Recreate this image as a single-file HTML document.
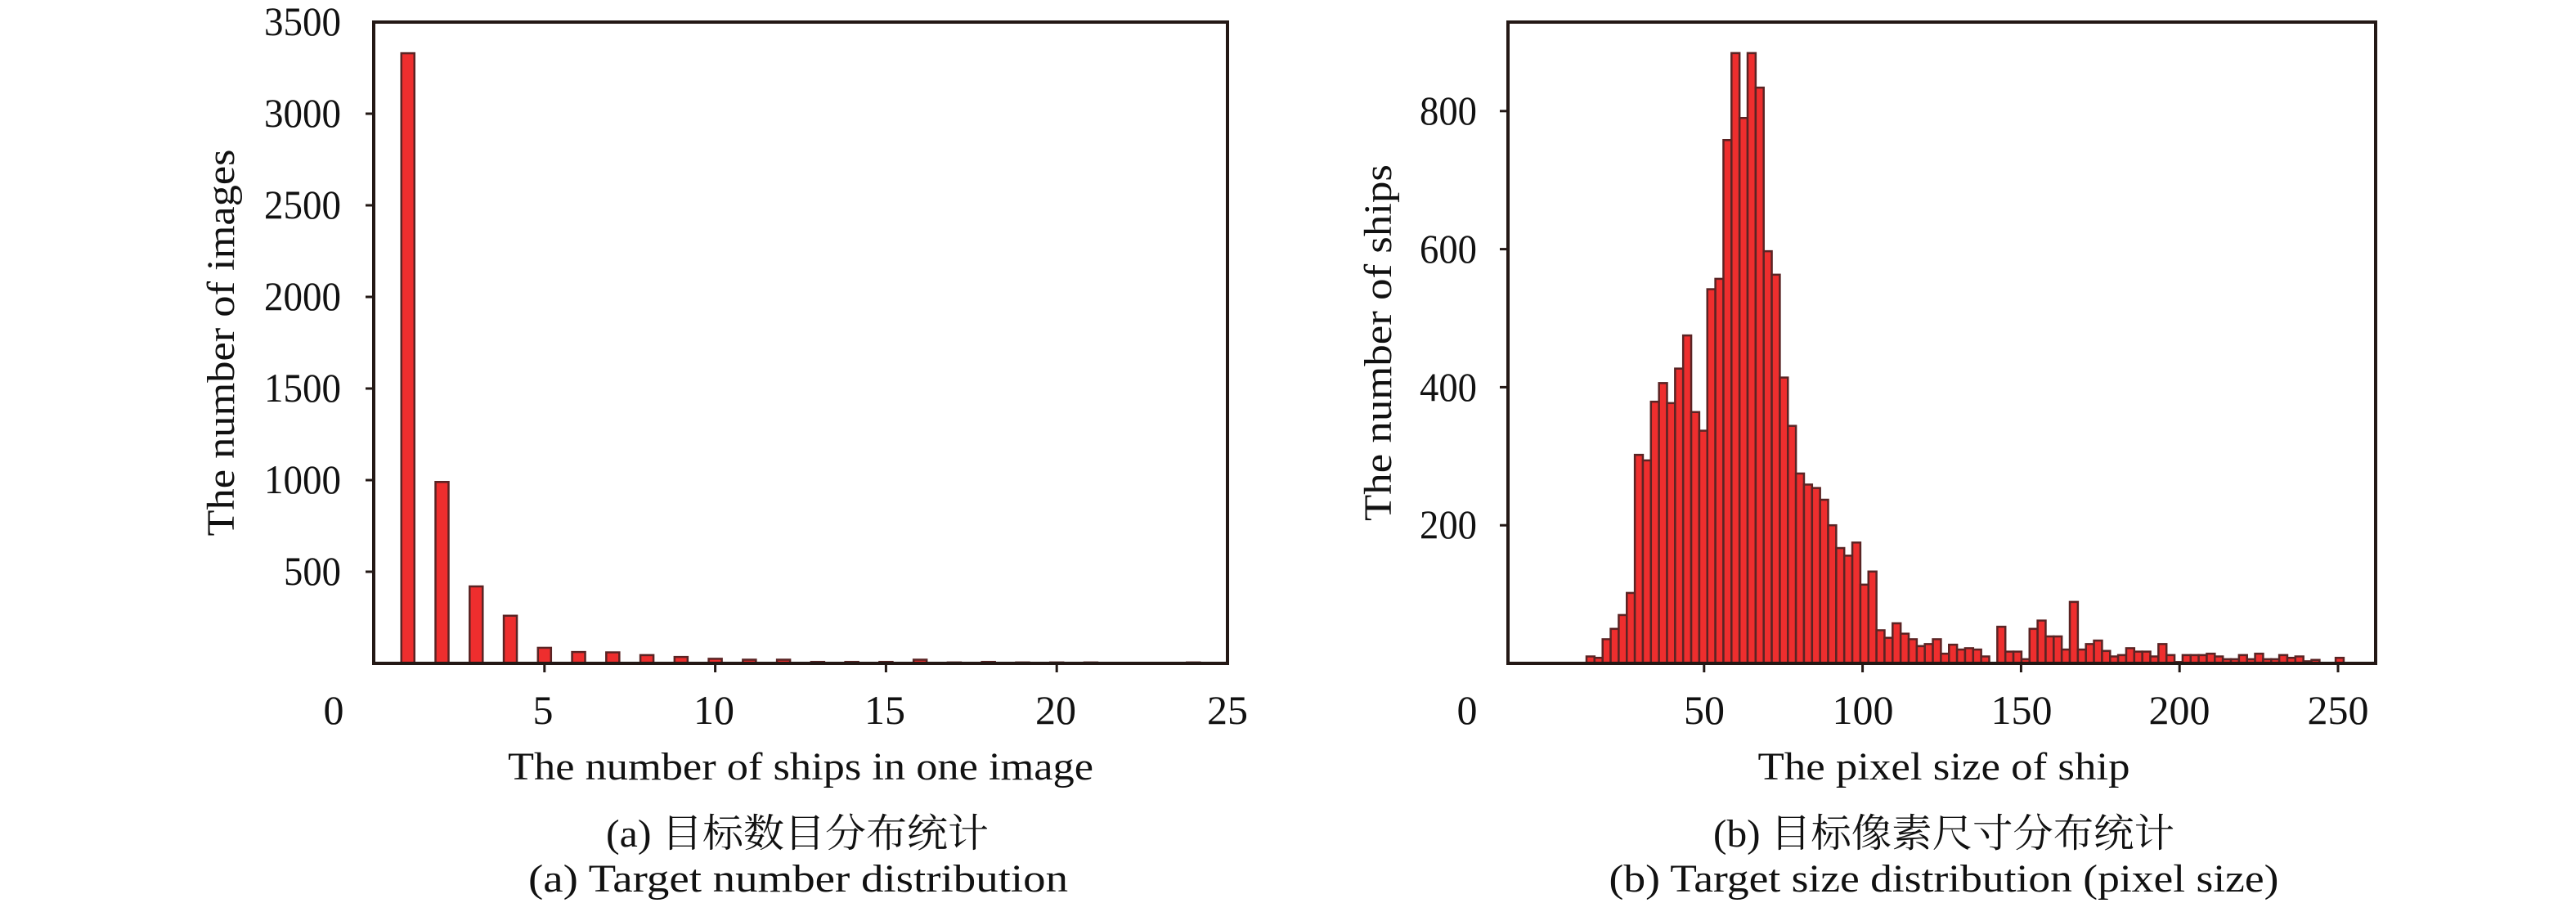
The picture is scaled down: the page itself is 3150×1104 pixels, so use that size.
<!DOCTYPE html>
<html><head><meta charset="utf-8"><style>
html,body{margin:0;padding:0;background:#fff;}
svg{display:block;}
text{font-family:"Liberation Serif","Noto Serif CJK SC",serif;fill:#111;}
</style></head><body>
<svg id="s" width="3150" height="1104" viewBox="0 0 3150 1104" xmlns="http://www.w3.org/2000/svg">
<g id="bars"></g>
<rect x="457" y="27" width="1044" height="784" fill="none" stroke="#231815" stroke-width="4"/>
<rect x="1844" y="27" width="1061" height="784" fill="none" stroke="#231815" stroke-width="4"/>
<g font-size="50" text-anchor="end">
<text x="417" y="43" textLength="94" lengthAdjust="spacingAndGlyphs">3500</text>
<text x="417" y="155" textLength="94" lengthAdjust="spacingAndGlyphs">3000</text>
<text x="417" y="267" textLength="94" lengthAdjust="spacingAndGlyphs">2500</text>
<text x="417" y="379" textLength="94" lengthAdjust="spacingAndGlyphs">2000</text>
<text x="417" y="491" textLength="94" lengthAdjust="spacingAndGlyphs">1500</text>
<text x="417" y="603" textLength="94" lengthAdjust="spacingAndGlyphs">1000</text>
<text x="417" y="715" textLength="70" lengthAdjust="spacingAndGlyphs">500</text>
<text x="1806" y="152" textLength="70" lengthAdjust="spacingAndGlyphs">800</text>
<text x="1806" y="321" textLength="70" lengthAdjust="spacingAndGlyphs">600</text>
<text x="1806" y="490" textLength="70" lengthAdjust="spacingAndGlyphs">400</text>
<text x="1806" y="658" textLength="70" lengthAdjust="spacingAndGlyphs">200</text>
</g>
<g font-size="50" text-anchor="middle">
<text x="408" y="885">0</text>
<text x="664" y="885">5</text>
<text x="873" y="885">10</text>
<text x="1082" y="885">15</text>
<text x="1291" y="885">20</text>
<text x="1501" y="885">25</text>
<text x="1794" y="885">0</text>
<text x="2084" y="885">50</text>
<text x="2278" y="885">100</text>
<text x="2472" y="885">150</text>
<text x="2665" y="885">200</text>
<text x="2859" y="885">250</text>
</g>
<g font-size="48" text-anchor="middle">
<text x="979" y="953" textLength="716" lengthAdjust="spacingAndGlyphs">The number of ships in one image</text>
<text x="2377" y="953" textLength="455" lengthAdjust="spacingAndGlyphs">The pixel size of ship</text>
<text transform="translate(286,419) rotate(-90)" textLength="473" lengthAdjust="spacingAndGlyphs">The number of images</text>
<text transform="translate(1701,419) rotate(-90)" textLength="436" lengthAdjust="spacingAndGlyphs">The number of ships</text>
<text x="975" y="1035" textLength="468" lengthAdjust="spacingAndGlyphs">(a) 目标数目分布统计</text>
<text x="976" y="1090" textLength="660" lengthAdjust="spacingAndGlyphs">(a) Target number distribution</text>
<text x="2377" y="1035" textLength="564" lengthAdjust="spacingAndGlyphs">(b) 目标像素尺寸分布统计</text>
<text x="2377" y="1090" textLength="819" lengthAdjust="spacingAndGlyphs">(b) Target size distribution (pixel size)</text>
</g>
<g id="ticks" stroke="#231815" stroke-width="3"></g>
</svg>
<script>
var ns="http://www.w3.org/2000/svg",B=document.getElementById("bars"),T=document.getElementById("ticks");
function r(x,y,w,h){if(h<=0)return;var e=document.createElementNS(ns,"rect");e.setAttribute("x",x);e.setAttribute("y",y);e.setAttribute("width",w);e.setAttribute("height",h);e.setAttribute("fill","#ee2e2e");e.setAttribute("stroke","#5a2424");e.setAttribute("stroke-width","2.5");B.appendChild(e);}
function l(x1,y1,x2,y2){var e=document.createElementNS(ns,"line");e.setAttribute("x1",x1);e.setAttribute("y1",y1);e.setAttribute("x2",x2);e.setAttribute("y2",y2);T.appendChild(e);}
var L={1:3330,2:990,3:420,4:260,5:85,6:62,7:60,8:45,9:35,10:25,11:20,12:20,13:8,14:8,15:8,16:20,17:5,18:8,19:5,20:5,21:5,24:5};
for(var k in L){var cx=457+41.76*k,h=L[k]*0.224;r(cx-8,811-h,16,h);}
var V=[10,8,35,50,70,102,302,294,379,406,377,427,475,364,337,542,557,758,884,790,884,834,597,563,414,344,275,259,254,237,200,167,156,175,114,133,48,37,58,43,35,25,28,35,14,27,20,22,20,10,0,53,17,17,6,50,62,39,39,20,89,20,28,33,18,10,12,22,17,17,10,28,12,2,12,12,12,14,10,6,6,12,6,14,6,6,12,8,10,3,5,0,0,8];
var w=(2861-1940)/93.5;
for(var i=0;i<V.length;i++){var h=V[i]*0.844;r(1940+i*w,811-h,w,h);}
[1000,1500,2000,2500,3000].forEach(function(v){var y=811-v*0.224;l(457,y,447,y);});
l(457,699,447,699);
[200,400,600,800].forEach(function(v){var y=811-v*0.844;l(1844,y,1834,y);});
[5,10,15,20].forEach(function(v){var x=457+41.76*v;l(x,811,x,822);});
[50,100,150,200,250].forEach(function(v){var x=1890+3.876*v;l(x,811,x,822);});
</script>
</body></html>
